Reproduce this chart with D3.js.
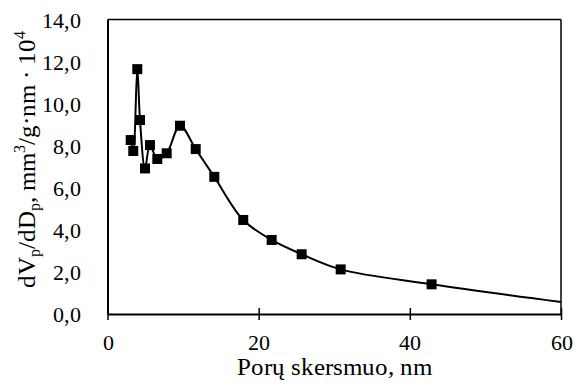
<!DOCTYPE html>
<html>
<head>
<meta charset="utf-8">
<script src="https://cdn.jsdelivr.net/npm/d3@7"></script>
<style>
  @font-face { font-family: "ChartSerif"; src: local("Liberation Serif"), local("LiberationSerif"), local("LiberationSerif-Regular"), local("Tinos"), local("Times New Roman"); }
  body { margin: 0; }
  #chart text { font-family: "ChartSerif", "Liberation Serif", "Times New Roman", serif; }
</style>
</head>
<body>
<svg id="chart" width="577" height="389"></svg>
<script>
// Data
const poreSize = [3.07, 3.41, 3.94, 4.30, 4.96, 5.62, 6.59, 7.83, 9.59, 11.67, 14.13, 17.96, 21.72, 25.69, 30.85, 42.88];
const dVdD     = [8.27, 7.75, 11.64, 9.22, 6.92, 8.03, 7.37, 7.64, 8.95, 7.84, 6.52, 4.47, 3.52, 2.84, 2.12, 1.41];
// line continues (no marker) to the right edge
const tailSize = [60];
const tailVal  = [0.57];

const xTicks = [0, 20, 40, 60];
const yTicks = [0, 2, 4, 6, 8, 10, 12, 14];
const xTitle = "Porų skersmuo, nm";

const svg = d3.select("#chart");
const m = { left: 107.5, right: 561, top: 19.5, bottom: 314 };

const x = d3.scaleLinear().domain([0, 60]).range([m.left, m.right]);
const y = d3.scaleLinear().domain([0, 14]).range([m.bottom, m.top]);

const fmt = d => d3.format(".1f")(d).replace(".", ",");

// frame (top & right)
svg.append("line").attr("x1", m.left).attr("x2", m.right).attr("y1", m.top).attr("y2", m.top)
  .attr("stroke", "#000").attr("stroke-width", 1.5);
svg.append("line").attr("x1", m.right).attr("x2", m.right).attr("y1", m.top).attr("y2", m.bottom)
  .attr("stroke", "#000").attr("stroke-width", 1.5);

// x axis
const xAxis = svg.append("g").attr("transform", `translate(0,${m.bottom})`)
  .call(d3.axisBottom(x).tickValues(xTicks).tickSize(6).tickSizeOuter(0).tickFormat(d3.format("d")));
xAxis.attr("font-size", 22);
xAxis.select(".domain").attr("stroke-width", 2);
xAxis.selectAll(".tick line").attr("stroke-width", 1.5).attr("y1", -6).attr("y2", 6);
xAxis.selectAll(".tick text").attr("dy", 0).attr("y", 36);

// y axis (no tick marks)
const yAxis = svg.append("g").attr("transform", `translate(${m.left},0)`)
  .call(d3.axisLeft(y).tickValues(yTicks).tickSize(0).tickSizeOuter(0).tickFormat(fmt));
yAxis.attr("font-size", 22);
yAxis.select(".domain").attr("stroke-width", 2);
yAxis.selectAll(".tick text").attr("x", -27).attr("dy", "0.35em");

// x title
svg.append("text").attr("x", (m.left + m.right) / 2).attr("y", 375)
  .attr("text-anchor", "middle").attr("font-size", 25).text(xTitle);

// y title
const yt = svg.append("text")
  .attr("transform", `translate(35,${(m.top + m.bottom) / 2 - 7}) rotate(-90)`)
  .attr("text-anchor", "middle").attr("font-size", 25);
yt.append("tspan").text("dV");
yt.append("tspan").attr("font-size", 16).attr("dy", 5).text("p");
yt.append("tspan").attr("dy", -5).text("/dD");
yt.append("tspan").attr("font-size", 16).attr("dy", 5).text("p");
yt.append("tspan").attr("dy", -5).text(", mm");
yt.append("tspan").attr("font-size", 16).attr("dy", -10).text("3");
yt.append("tspan").attr("dy", 10).text("/g·nm · 10");
yt.append("tspan").attr("font-size", 16).attr("dy", -10).text("4");

// line
const pts = poreSize.map((d, i) => [d, dVdD[i]]).concat(tailSize.map((d, i) => [d, tailVal[i]]));
const line = d3.line().x(d => x(d[0])).y(d => y(d[1])).curve(d3.curveCatmullRom.alpha(0.5));
svg.append("path").datum(pts).attr("d", line)
  .attr("fill", "none").attr("stroke", "#000").attr("stroke-width", 2);

// markers
const ms = 10;
svg.selectAll("rect.mk").data(poreSize.map((d, i) => [d, dVdD[i]])).join("rect")
  .attr("class", "mk")
  .attr("x", d => x(d[0]) - ms / 2).attr("y", d => y(d[1]) - ms / 2)
  .attr("width", ms).attr("height", ms).attr("fill", "#000");
</script>
</body>
</html>
